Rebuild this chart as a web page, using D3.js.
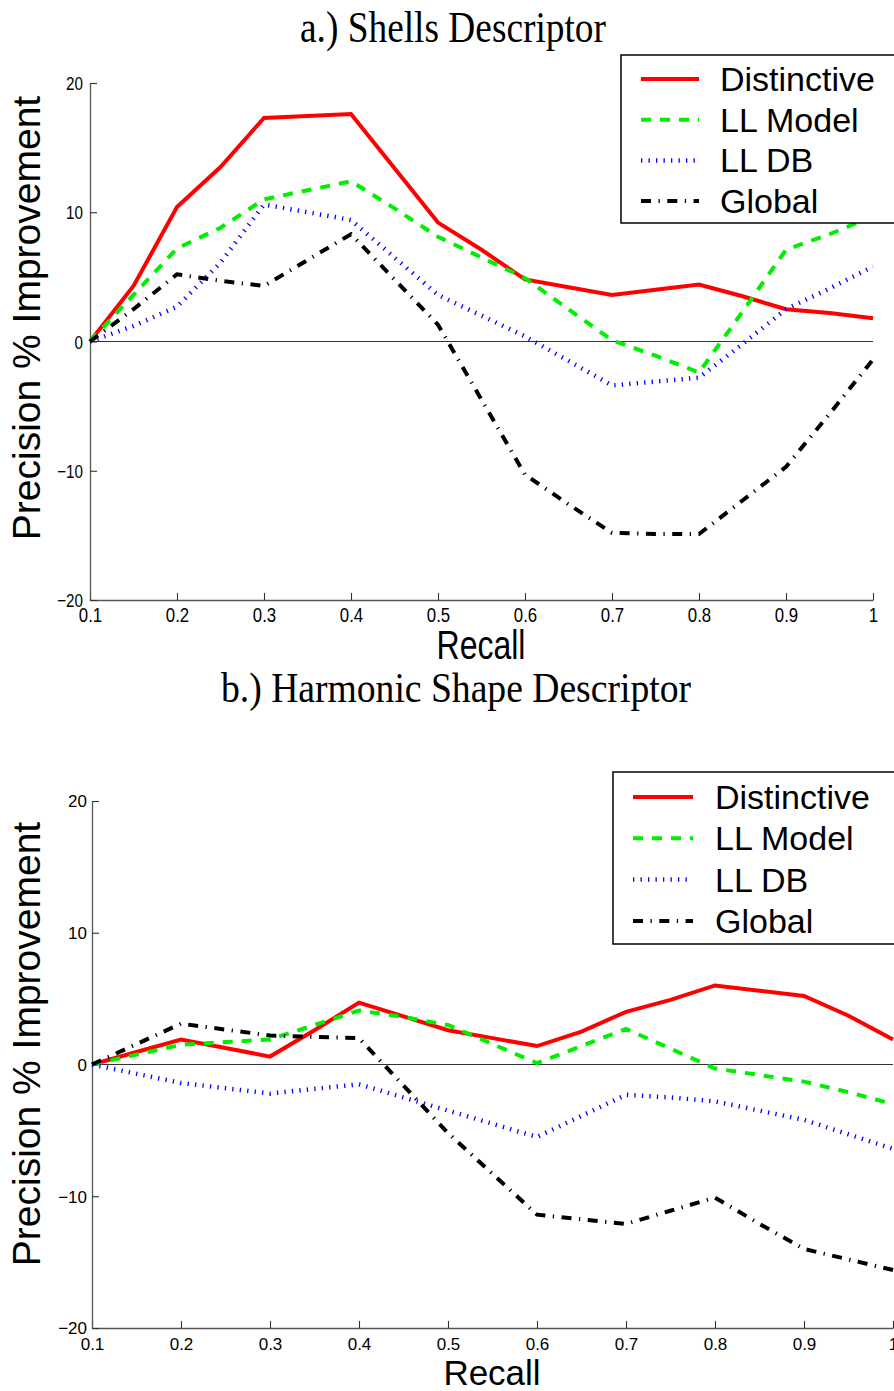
<!DOCTYPE html>
<html>
<head>
<meta charset="utf-8">
<script src="https://cdn.jsdelivr.net/npm/d3@7"></script>
<style>
  body { margin: 0; background: #fff; }
  svg { display: block; }
</style>
</head>
<body>
<div id="chart"></div>
<script>
// recall points shared by every curve
var recall = [0.1, 0.15, 0.2, 0.25, 0.3, 0.35, 0.4, 0.45, 0.5, 0.55,
              0.6, 0.65, 0.7, 0.75, 0.8, 0.85, 0.9, 0.95, 1.0];

var seriesNames = ["Distinctive", "LL Model", "LL DB", "Global"];

// a.) Shells Descriptor
var shellsDistinctive = [0, 4.3, 10.4, 13.5, 17.3, 17.45, 17.6, 13.4, 9.2, 7.1,
                         4.8, 4.2, 3.6, 4.0, 4.4, 3.5, 2.5, 2.2, 1.8];
var shellsModel = [0, 3.6, 7.2, 8.8, 11.0, 11.7, 12.4, 10.3, 8.1, 6.5,
                   4.9, 2.5, 0.1, -1.1, -2.4, 2.3, 7.1, 8.3, 9.7];
var shellsDB = [0, 1.2, 2.7, 6.1, 10.6, 10.0, 9.4, 6.5, 3.6, 2.0,
                0.4, -1.5, -3.4, -3.1, -2.8, -0.2, 2.5, 4.1, 5.8];
var shellsGlobal = [0, 2.5, 5.2, 4.7, 4.3, 6.3, 8.3, 4.8, 1.3, -4.5,
                    -10.3, -12.6, -14.8, -14.9, -14.9, -12.3, -9.7, -5.6, -1.4];

// b.) Harmonic Shape Descriptor
var harmonicDistinctive = [0, 0.95, 1.9, 1.25, 0.6, 2.6, 4.7, 3.65, 2.6, 2.0,
                           1.4, 2.5, 4.0, 4.9, 6.0, 5.6, 5.2, 3.7, 1.9];
var harmonicModel = [0, 0.75, 1.5, 1.7, 1.9, 3.0, 4.1, 3.6, 3.0, 1.55,
                     0.1, 1.4, 2.7, 1.2, -0.3, -0.8, -1.3, -2.1, -3.0];
var harmonicDB = [0, -0.7, -1.4, -1.8, -2.2, -1.85, -1.5, -2.5, -3.5, -4.5,
                  -5.5, -3.9, -2.3, -2.5, -2.8, -3.5, -4.2, -5.3, -6.4];
var harmonicGlobal = [0, 1.55, 3.1, 2.65, 2.2, 2.1, 2.0, -1.6, -5.2, -8.3,
                      -11.4, -11.75, -12.1, -11.1, -10.1, -12.1, -14.0, -14.8, -15.6];

var xTicks = [0.1, 0.2, 0.3, 0.4, 0.5, 0.6, 0.7, 0.8, 0.9, 1];
var yTicks = [-20, -10, 0, 10, 20];

// line look for each series, same order as seriesNames
var styles = [
  {color: "#ff0000", width: 4,   dash: null},
  {color: "#00ee00", width: 4,   dash: "10,9"},
  {color: "#0000ff", width: 4.5, dash: "1.3,6.2"},
  {color: "#000000", width: 4,   dash: "10,7.5,1.3,7.5"}
];

var W = 894, H = 1391;
var svg = d3.select("#chart").append("svg")
    .attr("width", W)
    .attr("height", H);

function drawChart(c) {
  var x = d3.scaleLinear().domain([0.1, 1]).range([c.left, c.right]);
  var y = d3.scaleLinear().domain([-20, 20]).range([c.bottom, c.top]);
  var g = svg.append("g");

  // title
  g.append("text")
    .attr("transform", "translate(" + c.titleX + "," + c.titleY + ") scale(" + c.titleSx + ",1)")
    .attr("text-anchor", "middle")
    .style("font-family", "'Liberation Serif', 'Times New Roman', serif")
    .style("font-size", c.titleSize + "px")
    .text(c.title);

  // zero line
  g.append("line")
    .attr("x1", x(0.1)).attr("x2", x(1))
    .attr("y1", y(0)).attr("y2", y(0))
    .attr("stroke", "#333").attr("stroke-width", 1.1);

  // axes, ticks pointing inward
  var ax = g.append("g")
    .attr("transform", "translate(0," + c.bottom + ")")
    .call(d3.axisBottom(x).tickValues(xTicks).tickSizeInner(-7).tickSizeOuter(0)
      .tickFormat(d3.format("~g")));
  var ay = g.append("g")
    .attr("transform", "translate(" + c.left + ",0)")
    .call(d3.axisLeft(y).tickValues(yTicks).tickSizeInner(-7).tickSizeOuter(0));

  [ax, ay].forEach(function(a) {
    a.select(".domain").attr("stroke", "#555").attr("stroke-width", 1.3);
    a.selectAll(".tick line").attr("stroke", "#333").attr("stroke-width", 1.1);
    a.selectAll("text")
      .style("font-family", "'Liberation Sans', Arial, sans-serif")
      .attr("fill", "#000");
  });

  ax.selectAll("text")
    .style("font-size", c.tickSize + "px")
    .attr("y", 0).attr("dy", "0.71em")
    .attr("transform", "translate(0," + c.tickPadX + ") scale(" + c.tickSx + ",1)");
  ay.selectAll("text")
    .style("font-size", c.yTickSize + "px")
    .attr("x", 0).attr("dy", "0.35em")
    .attr("transform", "translate(" + (-c.tickPadY) + ",0) scale(" + c.tickSx + ",1)");

  // axis titles
  g.append("text")
    .attr("transform", "translate(" + c.xLabelX + "," + c.xLabelY + ") scale(" + c.tickSx + ",1)")
    .attr("text-anchor", "middle")
    .style("font-family", "'Liberation Sans', Arial, sans-serif")
    .style("font-size", c.xLabelSize + "px")
    .text("Recall");

  g.append("text")
    .attr("transform", "translate(" + c.yLabelX + "," + c.yLabelY + ") rotate(-90)")
    .attr("text-anchor", "middle")
    .style("font-family", "'Liberation Sans', Arial, sans-serif")
    .style("font-size", "39px")
    .text("Precision % Improvement");

  // curves
  var line = d3.line()
    .x(function(d, i) { return x(recall[i]); })
    .y(function(d) { return y(d); });

  c.series.forEach(function(vals, i) {
    g.append("path")
      .datum(vals)
      .attr("d", line)
      .attr("fill", "none")
      .attr("stroke", styles[i].color)
      .attr("stroke-width", styles[i].width)
      .attr("stroke-dasharray", styles[i].dash)
      .attr("stroke-linejoin", "miter");
  });

  // legend
  var L = c.legend;
  g.append("rect")
    .attr("x", L.x).attr("y", L.y)
    .attr("width", W + 10 - L.x).attr("height", L.h)
    .attr("fill", "#fff").attr("stroke", "#000").attr("stroke-width", 1.5);

  seriesNames.forEach(function(name, i) {
    var ly = L.y0 + i * L.step;
    g.append("line")
      .attr("x1", L.lx1).attr("x2", L.lx2)
      .attr("y1", ly).attr("y2", ly)
      .attr("stroke", styles[i].color)
      .attr("stroke-width", styles[i].width)
      .attr("stroke-dasharray", styles[i].dash);
    g.append("text")
      .attr("x", L.tx).attr("y", ly + 12)
      .style("font-family", "'Liberation Sans', Arial, sans-serif")
      .style("font-size", "34px")
      .text(name);
  });
}

drawChart({
  title: "a.) Shells Descriptor", titleX: 453, titleY: 42, titleSize: 45, titleSx: 0.83,
  left: 90, right: 873, top: 83, bottom: 600,
  tickSize: 21, yTickSize: 19, tickSx: 0.8, tickPadX: 7, tickPadY: 7,
  xLabelX: 481, xLabelY: 659, xLabelSize: 40,
  yLabelX: 40, yLabelY: 318,
  series: [shellsDistinctive, shellsModel, shellsDB, shellsGlobal],
  legend: {x: 621, y: 55, h: 168, y0: 79, step: 40.7, lx1: 641, lx2: 699, tx: 720}
});

drawChart({
  title: "b.) Harmonic Shape Descriptor", titleX: 456, titleY: 702, titleSize: 43, titleSx: 0.875,
  left: 92, right: 893, top: 801, bottom: 1328,
  tickSize: 17, yTickSize: 17, tickSx: 1, tickPadX: 10, tickPadY: 5,
  xLabelX: 492, xLabelY: 1385, xLabelSize: 35,
  yLabelX: 40, yLabelY: 1044,
  series: [harmonicDistinctive, harmonicModel, harmonicDB, harmonicGlobal],
  legend: {x: 613, y: 772, h: 172, y0: 797, step: 41.3, lx1: 633, lx2: 693, tx: 715}
});
</script>
</body>
</html>
